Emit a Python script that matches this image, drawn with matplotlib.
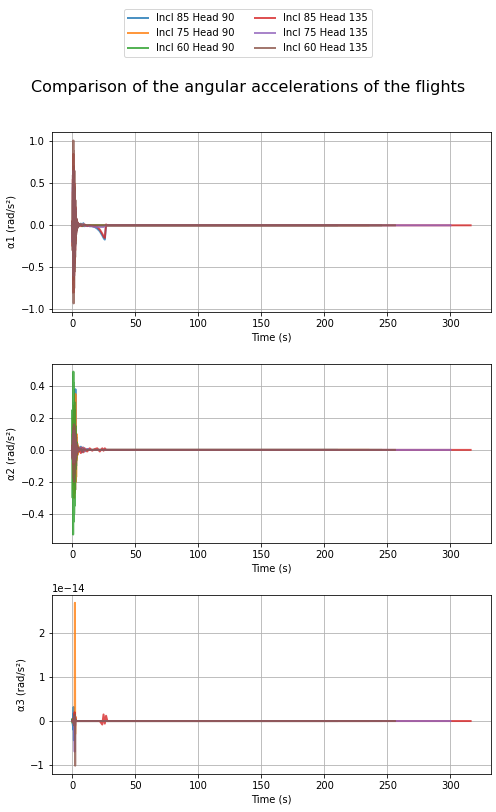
import matplotlib.pyplot as plt
import numpy as np

labels = ["Incl 85 Head 90", "Incl 75 Head 90", "Incl 60 Head 90",
          "Incl 85 Head 135", "Incl 75 Head 135", "Incl 60 Head 135"]
end_times = [210, 235, 245, 316, 300, 256]

# sample times (s) of the transient part, shared by all flights
t_early = [0.0, 0.3, 0.5, 0.7, 0.9, 1.1, 1.3, 1.5, 1.7, 1.9, 2.1, 2.3,
           2.5, 2.7, 2.9, 3.1, 3.3, 3.6, 3.9, 4.2, 4.6, 5.0, 5.5, 6.0]
t_late = [7, 8, 9, 10, 12, 14, 16, 18, 20, 22, 24, 25, 26, 27, 28, 30]

# alpha1 (rad/s^2)
a1_early = [
    [0, 0.04, -0.2, 0.5, -0.6, 0.7, -0.65, 0.6, -0.5, 0.45, -0.4, 0.3, -0.25, 0.2, -0.15, 0.1, -0.08, 0.06, -0.04, 0.03, -0.02, 0.02, -0.01, 0.01],
    [0, 0.03, -0.15, 0.4, -0.5, 0.6, -0.55, 0.5, -0.45, 0.4, -0.3, 0.25, -0.2, 0.15, -0.12, 0.08, -0.06, 0.04, -0.03, 0.02, -0.01, 0.01, 0.0, 0.0],
    [0, 0.02, -0.1, 0.3, -0.45, 0.5, -0.5, 0.45, -0.35, 0.3, -0.25, 0.2, -0.15, 0.12, -0.1, 0.07, -0.05, 0.03, -0.02, 0.01, -0.01, 0.01, 0.0, 0.0],
    [0, 0.05, -0.25, 0.55, -0.7, 0.85, -0.8, 0.7, -0.6, 0.5, -0.45, 0.35, -0.3, 0.22, -0.18, 0.12, -0.09, 0.07, -0.05, 0.04, -0.02, 0.02, -0.01, 0.01],
    [0, 0.03, -0.2, 0.45, -0.55, 0.65, -0.6, 0.55, -0.5, 0.4, -0.35, 0.3, -0.22, 0.18, -0.13, 0.1, -0.07, 0.05, -0.04, 0.03, -0.02, 0.01, -0.01, 0.0],
    [0, 0.05, -0.3, 0.6, -0.8, 1.01, -0.93, 0.88, -0.75, 0.65, -0.55, 0.45, -0.38, 0.3, -0.22, 0.16, -0.11, 0.08, -0.06, 0.04, -0.03, 0.02, -0.01, 0.0],
]
a1_late = [
    [0.02, -0.01, 0.025, -0.01, 0.0, -0.01, -0.01, -0.02, -0.04, -0.07, -0.12, -0.15, -0.17, 0.0, 0.0, 0.0],
    [0.01, -0.01, 0.01, 0.0, 0.0, -0.005, 0.0, 0.0, 0.0, 0.0, 0.0, 0.0, 0.0, 0.0, 0.0, 0.0],
    [0.01, 0.0, -0.01, 0.005, 0.0, 0.0, 0.0, 0.0, 0.0, 0.0, 0.0, 0.0, 0.0, 0.0, 0.0, 0.0],
    [-0.01, 0.01, 0.0, 0.01, -0.01, 0.0, -0.01, -0.01, -0.02, -0.05, -0.1, -0.13, -0.15, 0.01, 0.0, 0.0],
    [0.01, 0.0, 0.01, -0.01, 0.0, -0.01, -0.01, -0.02, -0.02, -0.02, -0.02, -0.02, -0.01, 0.0, 0.0, 0.0],
    [0.01, -0.01, 0.005, 0.0, 0.0, 0.0, 0.0, 0.0, 0.0, 0.0, 0.0, 0.0, 0.0, 0.0, 0.0, 0.0],
]

# alpha2 (rad/s^2)
a2_early = [
    [0, 0.02, -0.05, 0.1, -0.12, 0.15, -0.2, 0.18, -0.22, 0.25, -0.2, 0.3, -0.25, 0.38, -0.2, 0.15, -0.1, 0.08, -0.05, 0.03, -0.02, 0.02, -0.01, 0.01],
    [0, 0.02, -0.05, 0.1, -0.15, 0.2, -0.25, 0.22, -0.3, 0.28, -0.27, 0.3, -0.25, 0.35, -0.2, 0.15, -0.17, 0.1, -0.06, 0.04, -0.03, 0.02, -0.01, 0.0],
    [0, 0.25, -0.3, 0.2, -0.53, 0.49, -0.45, 0.42, -0.4, 0.3, -0.35, 0.25, -0.2, 0.15, -0.12, 0.1, -0.07, 0.05, -0.03, 0.02, -0.01, 0.01, 0.0, 0.0],
    [0, 0.02, -0.04, 0.06, -0.08, 0.1, -0.09, 0.1, -0.08, 0.07, -0.06, 0.05, -0.05, 0.04, -0.03, 0.03, -0.02, 0.02, -0.02, 0.015, -0.01, 0.01, -0.01, 0.01],
    [0, 0.02, -0.05, 0.08, -0.06, 0.1, -0.08, 0.12, -0.07, 0.1, -0.06, 0.08, -0.05, 0.06, -0.04, 0.03, -0.02, 0.02, -0.01, 0.01, -0.01, 0.0, 0.0, 0.0],
    [0, 0.03, -0.06, 0.1, -0.12, 0.14, -0.18, 0.16, -0.2, 0.15, -0.15, 0.13, -0.12, 0.1, -0.08, 0.06, -0.05, 0.04, -0.03, 0.02, -0.01, 0.01, 0.0, 0.0],
]
a2_late = [
    [0.02, -0.015, 0.015, -0.01, 0.005, 0.0, 0.0, 0.0, 0.0, 0.0, 0.0, 0.0, 0.0, 0.0, 0.0, 0.0],
    [0.01, -0.01, 0.01, -0.005, 0.0, 0.0, 0.0, 0.0, 0.0, 0.0, 0.0, 0.0, 0.0, 0.0, 0.0, 0.0],
    [0.005, 0.0, 0.0, 0.0, 0.0, 0.0, 0.0, 0.0, 0.0, 0.0, 0.0, 0.0, 0.0, 0.0, 0.0, 0.0],
    [-0.02, 0.015, -0.015, 0.01, -0.01, 0.01, -0.005, 0.005, 0.01, -0.01, 0.01, -0.005, 0.01, 0.0, 0.0, 0.0],
    [0.015, -0.01, 0.01, -0.005, 0.005, 0.0, 0.0, 0.0, 0.0, 0.0, 0.0, 0.0, 0.0, 0.0, 0.0, 0.0],
    [0.01, -0.01, 0.005, 0.0, 0.0, 0.0, 0.0, 0.0, 0.0, 0.0, 0.0, 0.0, 0.0, 0.0, 0.0, 0.0],
]

# alpha3 (1e-14 rad/s^2)
a3_early = [
    [0, 0.0, 0.05, -0.1, 0.15, -0.2, 0.32, -0.44, 0.2, -0.1, 0.05, 0.0, 0.0, 0.0, 0.0, 0.0, 0.0, 0.0, 0.0, 0.0, 0.0, 0.0, 0.0, 0.0],
    [0, 0.0, 0.0, 0.0, 0.02, -0.02, 0.0, 0.05, -0.05, 0.1, -0.1, 2.7, -0.3, 0.1, 0.0, 0.0, 0.0, 0.0, 0.0, 0.0, 0.0, 0.0, 0.0, 0.0],
    [0, 0.05, -0.05, 0.04, -0.03, 0.02, 0.0, 0.0, 0.0, 0.0, 0.0, 0.0, 0.0, 0.0, 0.0, 0.0, 0.0, 0.0, 0.0, 0.0, 0.0, 0.0, 0.0, 0.0],
    [0, 0.0, 0.0, 0.02, -0.02, 0.05, -0.05, 0.1, -0.1, 0.15, 0.2, -0.1, 0.1, 0.0, 0.0, 0.0, 0.0, 0.0, 0.0, 0.0, 0.0, 0.0, 0.0, 0.0],
    [0, 0.0, 0.0, 0.0, 0.02, -0.05, 0.05, -0.1, 0.1, -0.3, -0.7, 0.1, -0.1, 0.0, 0.0, 0.0, 0.0, 0.0, 0.0, 0.0, 0.0, 0.0, 0.0, 0.0],
    [0, 0.0, 0.02, -0.02, 0.0, 0.05, -0.05, 0.05, -0.1, 0.1, -0.1, 0.15, -1.02, 0.05, 0.0, 0.0, 0.0, 0.0, 0.0, 0.0, 0.0, 0.0, 0.0, 0.0],
]
a3_late = [
    [0.0] * 16,
    [0.0] * 16,
    [0.0] * 16,
    [0.0, 0.0, 0.0, 0.0, 0.0, 0.0, 0.0, 0.0, 0.0, 0.0, -0.08, 0.15, -0.06, 0.12, 0.0, 0.0],
    [0.0] * 16,
    [0.0] * 16,
]

colors = ["tab:blue", "tab:orange", "tab:green", "tab:red", "tab:purple", "tab:brown"]

fig, axs = plt.subplots(3, 1, figsize=(496 / 72, 812 / 72), dpi=72)
fig.subplots_adjust(left=0.105, right=0.989, top=0.837, bottom=0.047, hspace=0.29)

panels = [(a1_early, a1_late, 1.0, "α1 (rad/s²)"),
          (a2_early, a2_late, 1.0, "α2 (rad/s²)"),
          (a3_early, a3_late, 1e-14, "α3 (rad/s²)")]

for ax, (early, late, scale, ylab) in zip(axs, panels):
    for i in range(6):
        t = t_early + t_late + [end_times[i]]
        v = np.array(early[i] + late[i] + [0.0]) * scale
        ax.plot(t, v, color=colors[i], lw=2, alpha=0.8, label=labels[i])
    ax.set_xlabel("Time (s)")
    ax.set_ylabel(ylab)
    ax.grid(True)

handles, labs = axs[0].get_legend_handles_labels()
fig.legend(handles, labs, loc="upper center", bbox_to_anchor=(0.5, 0.995), ncol=2)
fig.suptitle("Comparison of the angular accelerations of the flights", fontsize=16, y=0.892, va="center")

fig.savefig("out.png", dpi=72)
